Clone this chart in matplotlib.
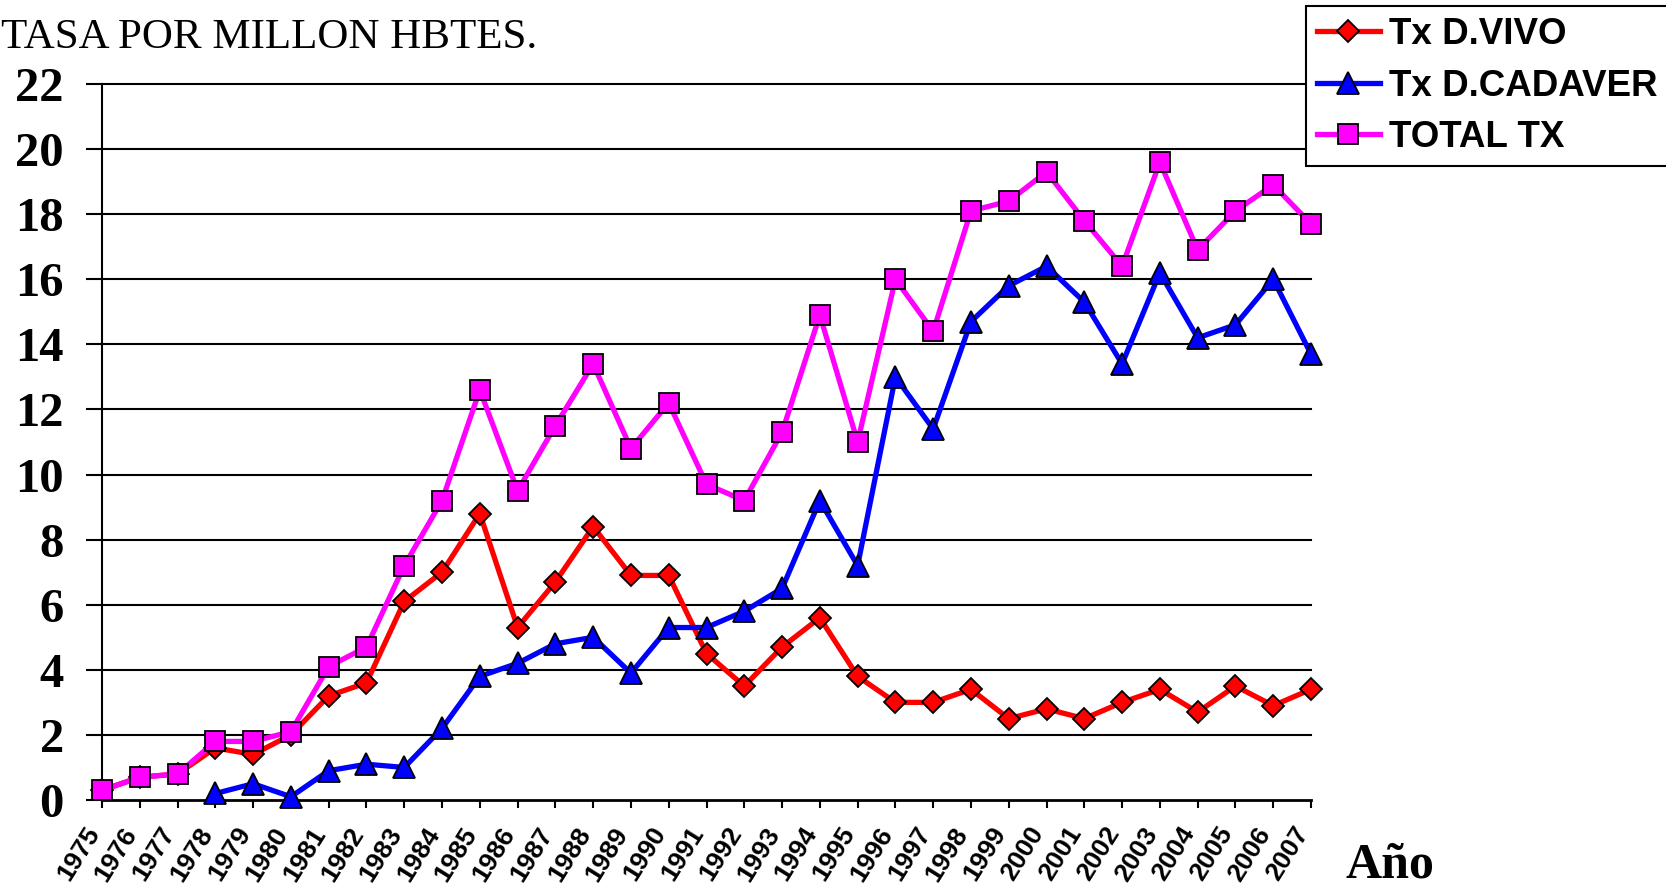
import numpy as np
import matplotlib
matplotlib.use("Agg")
import matplotlib.pyplot as plt
from matplotlib.transforms import ScaledTranslation

# years and rates (per million inhabitants)
years = list(range(1975, 2008))
vivo = [0.3, 0.7, 0.8, 1.6, 1.4, 2.0, 3.2, 3.6, 6.1, 7.0, 8.8, 5.3, 6.7, 8.4, 6.9, 6.9,
        4.5, 3.5, 4.7, 5.6, 3.8, 3.0, 3.0, 3.4, 2.5, 2.8, 2.5, 3.0, 3.4, 2.7, 3.5, 2.9, 3.4]
years_cad = list(range(1978, 2008))
cadaver = [0.2, 0.5, 0.1, 0.9, 1.1, 1.0, 2.2, 3.8, 4.2, 4.8, 5.0, 3.9, 5.3, 5.3, 5.8,
           6.5, 9.2, 7.2, 13.0, 11.4, 14.7, 15.8, 16.4, 15.3, 13.4, 16.2, 14.2, 14.6, 16.0, 13.7]
total = [0.3, 0.7, 0.8, 1.8, 1.8, 2.1, 4.1, 4.7, 7.2, 9.2, 12.6, 9.5, 11.5, 13.4, 10.8, 12.2,
         9.7, 9.2, 11.3, 14.9, 11.0, 16.0, 14.4, 18.1, 18.4, 19.3, 17.8, 16.4, 19.6, 16.9, 18.1, 18.9, 17.7]
yticks = list(range(0, 23, 2))

serif = "Liberation Serif"
sans = "Liberation Sans"

W, H = 1666, 884
fig = plt.figure(figsize=(W / 100, H / 100), dpi=100)
ax = fig.add_axes([102 / W, 1 - 800 / H, (1311 - 102) / W, (800 - 84) / H])

ax.plot(years, vivo, color="#FF0000", lw=3.8, marker="D", ms=11.5, mfc="#FF0000",
        mec="black", mew=1.3, label="Tx D.VIVO", zorder=3)
ax.plot(years_cad, cadaver, color="#0000FF", lw=3.8, marker="^", ms=15.5, mfc="#0000FF",
        mec="black", mew=1.3, label="Tx D.CADAVER", zorder=4)
ax.plot(years, total, color="#FF00FF", lw=3.8, marker="s", ms=14, mfc="#FF00FF",
        mec="black", mew=1.3, label="TOTAL TX", zorder=5)

ax.set_xlim(1975, 2007)
ax.set_ylim(0, 22)
ax.set_yticks(yticks)
ax.set_yticklabels([str(v) for v in yticks], fontfamily=serif, fontweight="bold", fontsize=35)
ax.set_xticks(years)
ax.set_xticklabels([str(y) for y in years], fontfamily=sans, fontweight="bold", fontsize=19,
                   rotation=58, ha="right", va="center", rotation_mode="anchor")
ax.tick_params(axis="y", direction="out", length=11.5, width=1.5, pad=16)
ax.tick_params(axis="x", direction="out", length=6, width=1.5, pad=15)
shift = ScaledTranslation(-8 / 100, 0, fig.dpi_scale_trans)
for lab in ax.get_xticklabels():
    lab.set_transform(lab.get_transform() + shift)

for y in yticks[1:]:
    ax.axhline(y, color="black", lw=1.5, zorder=1)
for s in ["top", "right"]:
    ax.spines[s].set_visible(False)
ax.spines["left"].set_linewidth(1.5)
ax.spines["bottom"].set_linewidth(2)
for line in ax.lines:
    line.set_clip_on(False)

fig.text(1 / W, 1 - 48 / H, "TASA POR MILLON HBTES.", fontfamily=serif, fontsize=31,
         ha="left", va="baseline")
fig.text(1345 / W, 1 - 877 / H, "Año", fontfamily=serif, fontweight="bold", fontsize=36,
         ha="left", va="baseline")

leg = fig.legend(loc="upper left", bbox_to_anchor=(1306 / W, 1 - 6 / H),
                 prop={"family": sans, "weight": "bold", "size": 26.5},
                 frameon=True, fancybox=False, framealpha=1, edgecolor="black",
                 borderaxespad=0, handlelength=1.7, handletextpad=0.25,
                 labelspacing=0.45, borderpad=0.3)
leg.get_frame().set_linewidth(1.5)

fig.savefig("out.png", dpi=100)
